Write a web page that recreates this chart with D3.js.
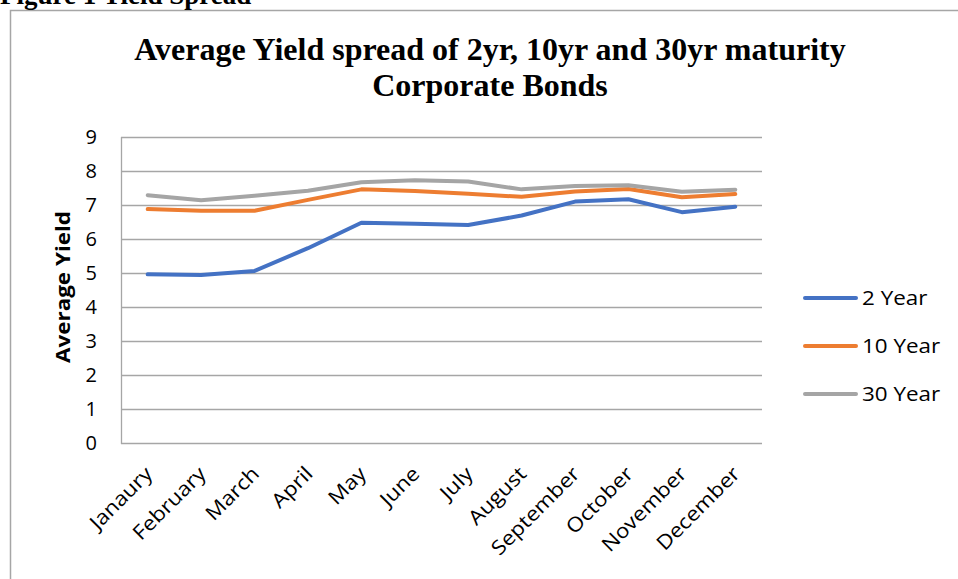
<!DOCTYPE html>
<html><head><meta charset="utf-8">
<script src="https://cdn.jsdelivr.net/npm/d3@7"></script>
<style>body{margin:0;background:#fff}svg{display:block}</style>
</head><body>
<svg id="c" width="958" height="579"></svg>
<script>
const months = ["Janaury","February","March","April","May","June","July","August","September","October","November","December"];
const year2 = [4.96,4.94,5.06,5.73,6.48,6.45,6.41,6.69,7.10,7.17,6.79,6.95];
const year10 = [6.88,6.83,6.83,7.15,7.46,7.41,7.33,7.24,7.40,7.47,7.23,7.32];
const year30 = [7.29,7.14,7.27,7.42,7.67,7.73,7.69,7.46,7.56,7.58,7.39,7.45];
const seriesNames = ["2 Year","10 Year","30 Year"];
const seriesColors = ["#4472c4","#ed7d31","#a5a5a5"];
const yTicks = [0,1,2,3,4,5,6,7,8,9];

const svg = d3.select("#c");
const sans = "'Open Sans', Lato, sans-serif";
const serif = "'Liberation Serif', 'DejaVu Serif', serif";
const STRETCH = 1.12;
function widen(sel, f){
  sel.each(function(){
    const w = this.getComputedTextLength();
    d3.select(this).attr("textLength", w*(f||STRETCH)).attr("lengthAdjust","spacingAndGlyphs");
  });
}

// outer frame
svg.append("path").attr("d","M10.5,579 L10.5,10.5 L958,10.5").attr("fill","none").attr("stroke","#a6a6a6").attr("stroke-width",1.5);
svg.append("text").attr("x",0).attr("y",4).attr("font-family",serif).attr("font-weight","bold").attr("font-size",27).text("Figure 1 Yield Spread");

// title
const title = svg.append("text").attr("text-anchor","middle").attr("font-family",serif).attr("font-weight","bold").attr("font-size",32).attr("fill","#000");
title.append("tspan").attr("x",490).attr("y",60).text("Average Yield spread of 2yr, 10yr and 30yr maturity");
title.append("tspan").attr("x",490).attr("y",96).text("Corporate Bonds");

const pLeft=121, pRight=762, pTop=137, pBottom=443;
const x = d3.scaleBand().domain(months).range([pLeft,pRight]);
const y = d3.scaleLinear().domain([0,9]).range([pBottom,pTop]);

// gridlines
svg.append("g").selectAll("line").data(yTicks).join("line")
  .attr("x1",pLeft).attr("x2",pRight).attr("y1",d=>y(d)+0.5).attr("y2",d=>y(d)+0.5)
  .attr("stroke","#a6a6a6").attr("stroke-width",1.3);
// y axis line
svg.append("line").attr("x1",pLeft+0.5).attr("x2",pLeft+0.5).attr("y1",pTop).attr("y2",pBottom+1).attr("stroke","#a6a6a6").attr("stroke-width",1.3);

// y tick labels
const yAxis = d3.axisLeft(y).tickValues(yTicks).tickSize(0).tickPadding(24);
const gy = svg.append("g").attr("transform",`translate(${pLeft},0)`).call(yAxis);
gy.select(".domain").remove();
gy.selectAll("text").attr("font-family",sans).attr("font-size",20).attr("fill","#000");

// x tick labels
const xAxis = d3.axisBottom(x).tickSize(0).tickPadding(0);
const gx = svg.append("g").attr("transform",`translate(0,${pBottom})`).call(xAxis);
gx.select(".domain").remove();
const xl = gx.selectAll("text").attr("font-family",sans).attr("font-size",20).attr("fill","#000")
  .attr("text-anchor","end").attr("dy",0).attr("y",0)
  .attr("transform","translate(6,32) rotate(-45)");
widen(xl);

// y axis title
const yt = svg.append("text").attr("transform","translate(70,287) rotate(-90)").attr("text-anchor","middle")
  .attr("font-family",sans).attr("font-weight","bold").attr("font-size",20).text("Average Yield");
widen(yt);

// lines
const allSeries = [year2, year10, year30];
const line = d3.line().x((d,i)=>x(months[i])+x.bandwidth()/2).y(d=>y(d));
allSeries.forEach((s,k)=>{
  svg.append("path").datum(s).attr("d",line).attr("fill","none")
    .attr("stroke",seriesColors[k]).attr("stroke-width",4).attr("stroke-linejoin","round").attr("stroke-linecap","round");
});

// legend
const lg = svg.append("g");
seriesNames.forEach((n,k)=>{
  const ly = 298 + k*48;
  lg.append("line").attr("x1",805).attr("x2",856).attr("y1",ly).attr("y2",ly).attr("stroke",seriesColors[k]).attr("stroke-width",4).attr("stroke-linecap","round");
  const t = lg.append("text").attr("x",862).attr("y",ly+7).attr("font-family",sans).attr("font-size",20).text(n);
  widen(t);
});
</script>
</body></html>
